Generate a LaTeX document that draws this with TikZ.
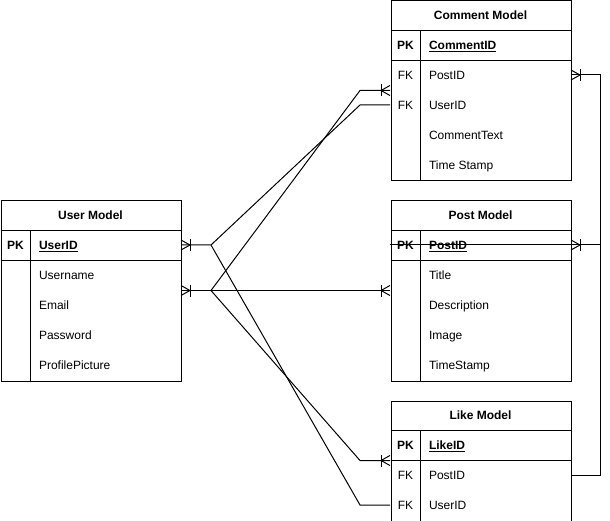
\documentclass[tikz,border=0pt]{standalone}
\usepackage{fontspec}
\setmainfont{Liberation Sans}
\usetikzlibrary{calc}
\newcommand\ERtable[5]{%
  \node[tbl, minimum height={30+30*#4}] (#1) at (#2,#3) {};
  \node[rowbox, hdrlbl] (#1-h) at (#2+90,#3+15) {#5};
  \draw (#2,#3+30) -- ++(180,0);
  \draw (#2,#3+60) -- ++(180,0);
  \draw (#2+30,#3+30) -- (#2+30,#3+30+30*#4);}
\newcommand\ERrow[5]{%
  \node[rowbox] (#1) at (#2+90,#3) {};
  \node[keylbl] (#1-k) at (#2+15,#3+4.5) {#4};
  \node[fldlbl] (#1-f) at (#2+38,#3+4.5) {#5};}
\begin{document}
\begin{tikzpicture}[x=1pt,y=-1pt,line width=1pt,
  every node/.style={font=\fontsize{12}{14}\selectfont, inner sep=0pt},
  tbl/.style={draw, minimum width=180pt, anchor=north west},
  rowbox/.style={minimum width=180pt, minimum height=30pt},
  hdrlbl/.style={font=\fontsize{12}{14}\selectfont\bfseries},
  keylbl/.style={anchor=base},
  fldlbl/.style={anchor=base west},
  foot/.pic={\draw (0,-5) -- (9,0) -- (0,5); \draw (9,-6) -- (9,6);}]
\useasboundingbox[fill=white] (0,0) rectangle (610,521);
% User Model
\ERtable{U}{0.5}{200.5}{5}{User Model}
\ERrow{U-pk}{0.5}{245}{\textbf{PK}}{\textbf{\underline{UserID}}}
\ERrow{U-r1}{0.5}{275}{}{Username}
\ERrow{U-r2}{0.5}{305}{}{Email}
\ERrow{U-r3}{0.5}{335}{}{Password}
\ERrow{U-r4}{0.5}{365}{}{ProfilePicture}
% Comment Model
\ERtable{C}{390.5}{0.5}{5}{Comment Model}
\ERrow{C-pk}{390.5}{45}{\textbf{PK}}{\textbf{\underline{CommentID}}}
\ERrow{C-r1}{390.5}{75}{FK}{PostID}
\ERrow{C-r2}{390.5}{105}{FK}{UserID}
\ERrow{C-r3}{390.5}{135}{}{CommentText}
\ERrow{C-r4}{390.5}{165}{}{Time Stamp}
% Post Model
\ERtable{P}{390.5}{200.5}{5}{Post Model}
\ERrow{P-pk}{390.5}{245}{\textbf{PK}}{\textbf{\underline{PostID}}}
\ERrow{P-r1}{390.5}{275}{}{Title}
\ERrow{P-r2}{390.5}{305}{}{Description}
\ERrow{P-r3}{390.5}{335}{}{Image}
\ERrow{P-r4}{390.5}{365}{}{TimeStamp}
% Like Model
\ERtable{L}{390.5}{400.5}{3}{Like Model}
\ERrow{L-pk}{390.5}{445}{\textbf{PK}}{\textbf{\underline{LikeID}}}
\ERrow{L-r1}{390.5}{475}{FK}{PostID}
\ERrow{L-r2}{390.5}{505}{FK}{UserID}
% connectors
\coordinate (jA) at ($(U-pk.east)+(30,0)$);
\coordinate (jB) at ($(U-r1.south east)+(30,0)$);
\coordinate (rail) at (600.5,0);
\draw (U-pk.east) -- (jA) -- ($(C-r2.west)+(-30,0)$) -- (C-r2.west);
\draw (jA) -- ($(L-r2.west)+(-30,0)$) -- (L-r2.west);
\draw (U-r1.south east) -- (P-r1.south west);
\draw (jB) -- ($(C-r1.south west)+(-30,0)$) -- (C-r1.south west);
\draw (jB) -- ($(L-pk.south west)+(-30,0)$) -- (L-pk.south west);
\draw (P-pk.west) -- (P-pk.west -| rail);
\draw (L-r1.east) -- (L-r1.east -| rail) -- (C-r1.east -| rail) -- (C-r1.east);
\pic at (U-pk.east) {foot};
\pic at (U-r1.south east) {foot};
\pic[xscale=-1] at (P-r1.south west) {foot};
\pic[xscale=-1] at (C-r1.south west) {foot};
\pic[xscale=-1] at (L-pk.south west) {foot};
\pic at (P-pk.east) {foot};
\pic at (C-r1.east) {foot};
\end{tikzpicture}
\end{document}
